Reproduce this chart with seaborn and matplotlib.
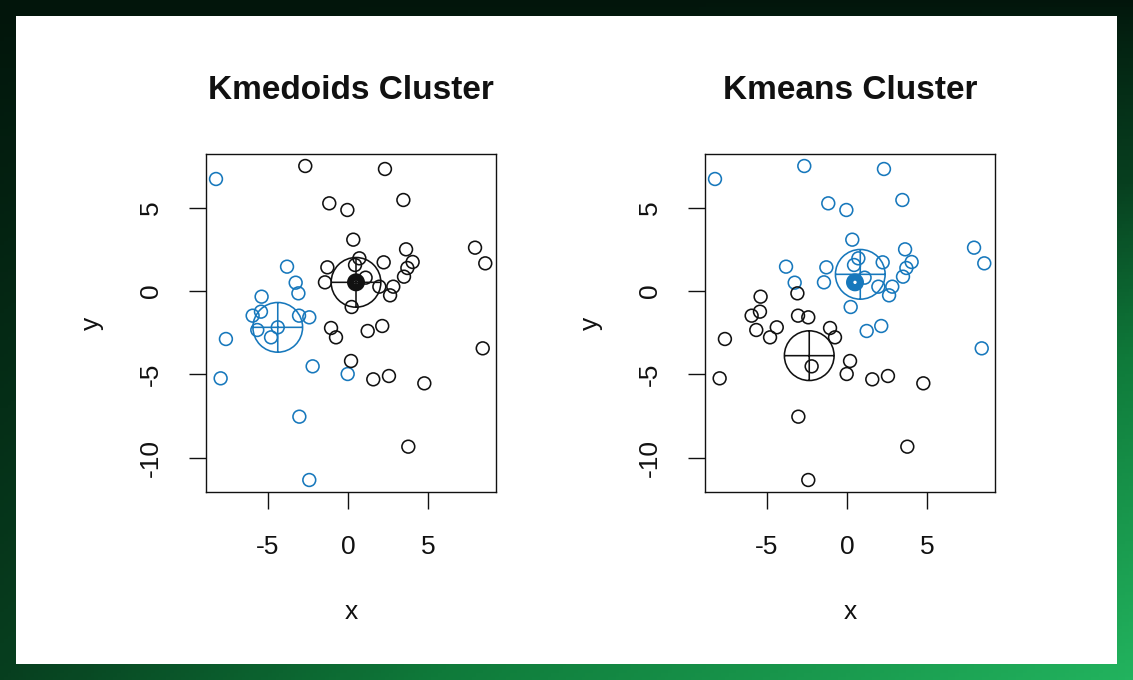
import numpy as np
import pandas as pd
import matplotlib
matplotlib.use("Agg")
import matplotlib.pyplot as plt
from matplotlib.path import Path
from matplotlib.patches import Rectangle
from matplotlib.colors import LinearSegmentedColormap
import seaborn as sns

# ---------------- data ----------------
x = [-8.25, -2.67, 2.31, -1.17, -0.04, 3.46, 0.33, 3.63, 7.94, 8.58,
     4.04, 3.71, 3.50, 0.71, 0.44, 2.23, -1.29, -1.44, 1.10, 1.96,
     2.83, 2.63, 0.23, -1.06, 1.23, 2.14, -3.81, -3.27, -3.10, -5.40,
     -5.44, -5.96, -3.06, -2.42, -5.67, -4.81, -4.39, -7.63, -7.96, -2.21,
     -0.02, -3.04, -2.42, -0.75, 8.42, 0.19, 1.58, 2.56, 4.77, 3.77]
y = [6.72, 7.50, 7.32, 5.26, 4.86, 5.46, 3.08, 2.50, 2.60, 1.66,
     1.74, 1.38, 0.86, 1.96, 1.56, 1.72, 1.42, 0.52, 0.80, 0.26,
     0.26, -0.26, -0.96, -2.22, -2.40, -2.10, 1.46, 0.50, -0.14, -0.34,
     -1.24, -1.48, -1.48, -1.58, -2.34, -2.78, -2.18, -2.88, -5.24, -4.52,
     -4.98, -7.54, -11.34, -2.78, -3.44, -4.20, -5.30, -5.10, -5.54, -9.34]
# cluster labels (1 = black, 2 = blue)
kmedoids_cluster = [2, 1, 1, 1, 1, 1, 1, 1, 1, 1,
                    1, 1, 1, 1, 1, 1, 1, 1, 1, 1,
                    1, 1, 1, 1, 1, 1, 2, 2, 2, 2,
                    2, 2, 2, 2, 2, 2, 2, 2, 2, 2,
                    2, 2, 2, 1, 1, 1, 1, 1, 1, 1]
kmeans_cluster = [2, 2, 2, 2, 2, 2, 2, 2, 2, 2,
                  2, 2, 2, 2, 2, 2, 2, 2, 2, 2,
                  2, 2, 2, 1, 2, 2, 2, 2, 1, 1,
                  1, 1, 1, 1, 1, 1, 1, 1, 1, 1,
                  1, 1, 1, 1, 2, 1, 1, 1, 1, 1]

# heavily overplotted point
heavy_x = [0.50]
heavy_y = [0.52]
heavy_kmedoids = [1]
heavy_kmeans = [2]

# cluster centres
kmedoids_cx = [0.50, -4.39]
kmedoids_cy = [0.52, -2.18]
kmeans_cx = [-2.36, 0.83]
kmeans_cy = [-3.88, 1.00]
center_cluster = [1, 2]

titles = ["Kmedoids Cluster", "Kmeans Cluster"]
xticks = [-5, 0, 5]
yticks = [-10, -5, 0, 5]

# ---------------- style ----------------
BLACK = "#111111"
BLUE = "#1778BC"
palette = {1: BLACK, 2: BLUE}

sns.set_style("white")
plt.rcParams["font.family"] = ["Liberation Sans", "DejaVu Sans"]

W, H = 1133, 680
fig = plt.figure(figsize=(W / 100, H / 100), dpi=100)

# background gradient + white panel
bg = fig.add_axes([0, 0, 1, 1], zorder=-10)
gx = np.linspace(0, 1, 300)
gy = np.linspace(0, 1, 200)
GX, GY = np.meshgrid(gx, gy)
T = np.clip(0.35 * GY + 0.65 * GX * GY ** 0.7, 0, 1)
cmap = LinearSegmentedColormap.from_list(
    "g", [(0, "#02150b"), (0.35, "#073f1f"), (0.6, "#0f7a3a"), (1, "#22b35e")])
bg.imshow(T, cmap=cmap, extent=[0, 1, 0, 1], aspect="auto", origin="upper",
          vmin=0, vmax=1)
bg.add_patch(Rectangle((16 / W, 1 - 664 / H), 1101 / W, 648 / H,
                       facecolor="white", edgecolor="none"))
bg.set_xlim(0, 1)
bg.set_ylim(0, 1)
bg.axis("off")

# crosshair (circle with plus) marker
cross = Path.make_compound_path(
    Path.unit_circle(),
    Path([[-1, 0], [1, 0]], [Path.MOVETO, Path.LINETO]),
    Path([[0, -1], [0, 1]], [Path.MOVETO, Path.LINETO]),
)

ax_left = fig.add_axes([206 / W, 1 - 492 / H, 290 / W, 338 / H])
ax_right = fig.add_axes([705 / W, 1 - 492 / H, 290 / W, 338 / H])

panels = [
    (ax_left, kmedoids_cluster, heavy_kmedoids, kmedoids_cx, kmedoids_cy),
    (ax_right, kmeans_cluster, heavy_kmeans, kmeans_cx, kmeans_cy),
]


def hollow(ax, lw):
    coll = ax.collections[-1]
    fc = coll.get_facecolors()
    coll.set_edgecolors(fc)
    coll.set_facecolors("none")
    coll.set_linewidths(lw)


for (ax, labels, hlab, cx, cy), title in zip(panels, titles):
    df = pd.DataFrame({"x": x, "y": y, "cluster": labels})
    sns.scatterplot(data=df, x="x", y="y", hue="cluster", palette=palette,
                    s=85, ax=ax, legend=False, zorder=3)
    hollow(ax, 1.15)

    dh = pd.DataFrame({"x": heavy_x, "y": heavy_y, "cluster": hlab})
    sns.scatterplot(data=dh, x="x", y="y", hue="cluster", palette=palette,
                    s=60, ax=ax, legend=False, zorder=4)
    hollow(ax, 5.2)

    dc = pd.DataFrame({"x": cx, "y": cy, "cluster": center_cluster})
    sns.scatterplot(data=dc, x="x", y="y", hue="cluster", palette=palette,
                    marker=cross, s=1280, ax=ax, legend=False, zorder=5)
    hollow(ax, 1.15)

    ax.set_xlim(-8.875, 9.25)
    ax.set_ylim(-12.06, 8.22)
    ax.set_xticks(xticks)
    ax.set_yticks(yticks)
    ax.set_xticklabels([str(v) for v in xticks])
    ax.set_yticklabels([str(v) for v in yticks], rotation=90, va="center")
    ax.tick_params(axis="both", direction="out", length=12, width=1.0,
                   color=BLACK, labelsize=19, labelcolor=BLACK, pad=19,
                   bottom=True, left=True)
    for sp in ax.spines.values():
        sp.set_visible(True)
        sp.set_color(BLACK)
        sp.set_linewidth(1.0)
    ax.set_xlabel("x", fontsize=19, color=BLACK)
    ax.set_ylabel("y", fontsize=19, color=BLACK)
    ax.xaxis.label.set_va("center")
    ax.yaxis.label.set_va("center")
    ax.xaxis.set_label_coords(0.5, (492 - 612) / 338)
    ax.yaxis.set_label_coords((92 - 206) / 290, 0.5)
    ax.set_title(title, fontsize=24, fontweight="bold", color=BLACK,
                 y=1 + (154 - 99) / 338, va="center")
    ax.set_facecolor("white")

fig.savefig("out.png", dpi=100)
